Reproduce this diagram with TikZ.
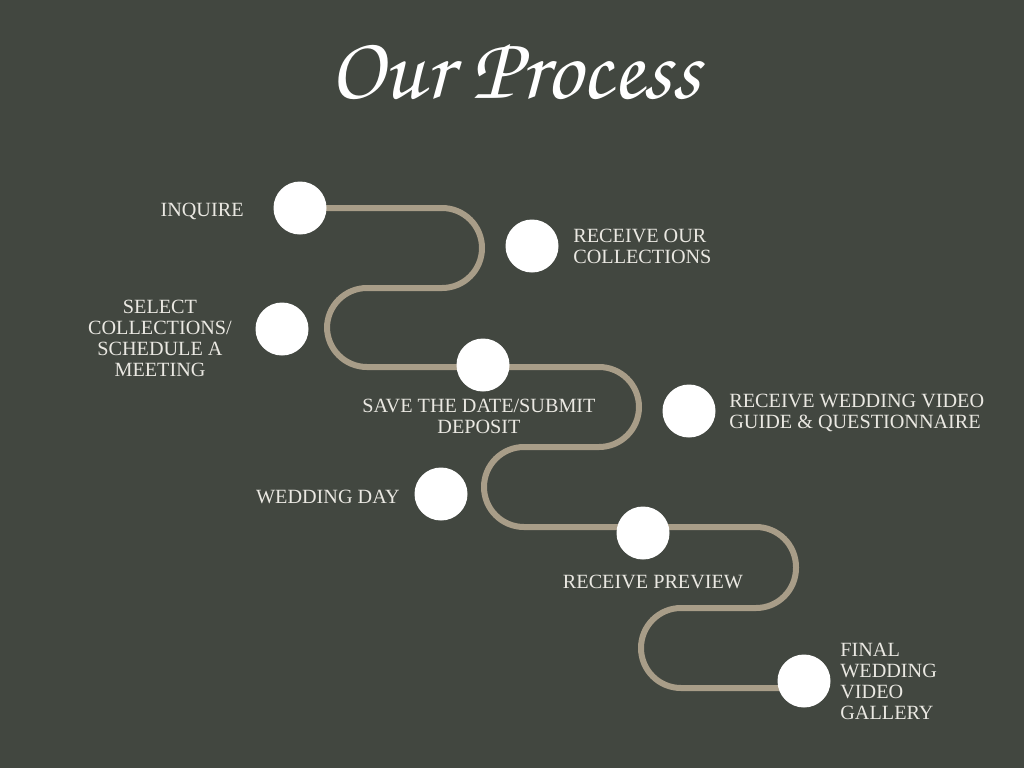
\documentclass[tikz,border=0pt]{standalone}
\usepackage{fontspec}
\setmainfont{Liberation Serif}
\newfontfamily\titlefont{TeX Gyre Chorus}
\usetikzlibrary{backgrounds}
\definecolor{bgcol}{RGB}{66,71,64}
\definecolor{pathcol}{RGB}{168,157,136}
\definecolor{txtcol}{RGB}{234,232,226}

\begin{document}
\begin{tikzpicture}[x=0.5pt, y=-0.5pt,
  dot/.style={circle, fill=white, minimum size=26.5pt, inner sep=0pt},
  lbl/.style={text=txtcol, inner sep=0pt, font=\fontsize{10.1}{10.5}\selectfont}]
  % Title
  \node[text=white, font=\titlefont\fontsize{45}{45}\selectfont] (title) at (515,72) {Our Process};

  % Steps
  \node[dot] (inq) at (300,208) {};
  \node[dot] (rcoll) at (532,246) {};
  \node[dot] (scoll) at (282,329) {};
  \node[dot] (save) at (483,365) {};
  \node[dot] (guide) at (689,411) {};
  \node[dot] (wday) at (441,494) {};
  \node[dot] (prev) at (643,533) {};
  \node[dot] (fin) at (804,681) {};

  % Labels
  \node[lbl, anchor=east] (inqtxt) at (244,211) {INQUIRE};
  \node[lbl, anchor=west, align=left] (rcolltxt) at (573,246) {RECEIVE OUR\\COLLECTIONS};
  \node[lbl, align=center] (scolltxt) at (160,338) {SELECT\\COLLECTIONS/\\SCHEDULE A\\MEETING};
  \node[lbl, align=center] (savetxt) at (479,416) {SAVE THE DATE/SUBMIT\\DEPOSIT};
  \node[lbl, anchor=west, align=left] (guidetxt) at (729,413) {RECEIVE WEDDING VIDEO\\GUIDE \& QUESTIONNAIRE};
  \node[lbl, anchor=east] (wdaytxt) at (400,497) {WEDDING DAY};
  \node[lbl] (prevtxt) at (653,582) {RECEIVE PREVIEW};
  \node[lbl, anchor=west, align=left] (fintxt) at (840,681) {FINAL\\WEDDING\\VIDEO\\GALLERY};

  % Winding path behind the dots
  \begin{scope}[on background layer]
    \fill[bgcol] (0,0) rectangle (1024,768);
    \draw[pathcol, line width=3pt, rounded corners=20pt]
      (inq.center) -- (482,208) -- (482,288) -- (327,288) -- (327,367)
      -- (639,367) -- (639,447) -- (484,447) -- (484,527)
      -- (796,527) -- (796,608) -- (641,608) -- (641,688)
      -- (fin.center |- 641,688);
  \end{scope}
\end{tikzpicture}
\end{document}
